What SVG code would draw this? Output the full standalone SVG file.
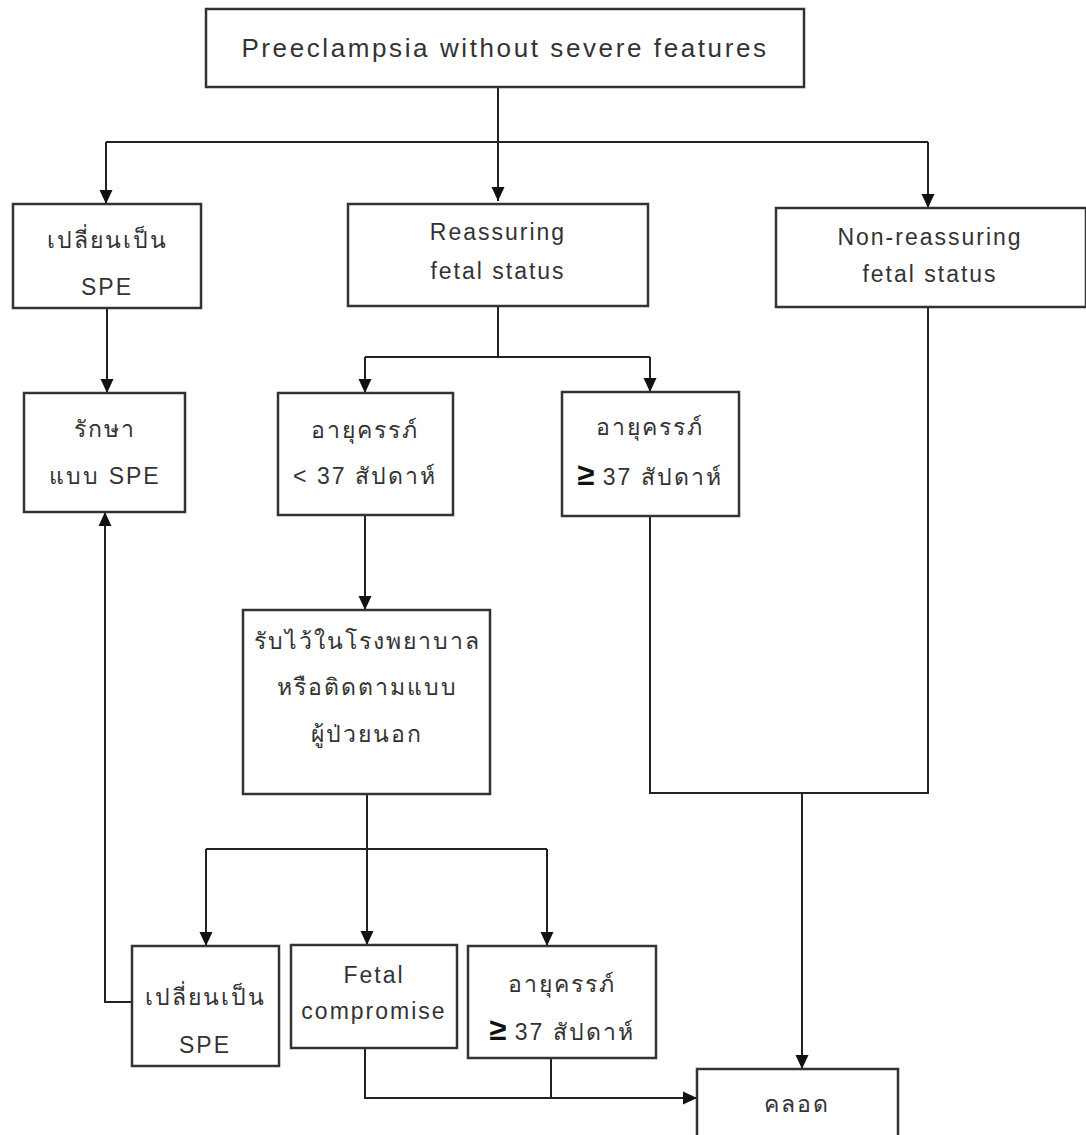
<svg xmlns="http://www.w3.org/2000/svg" width="1086" height="1135" viewBox="0 0 1086 1135">
<defs>
<marker id="arr" markerUnits="userSpaceOnUse" markerWidth="16" markerHeight="16" viewBox="0 0 16 16" refX="15" refY="8" orient="auto">
<path d="M1,1.5 L15,8 L1,14.5 Z" fill="#111"/>
</marker>
<style>
.box{fill:#fff;stroke:#333;stroke-width:2.5}
.t{font-family:"Liberation Sans","Noto Sans","DejaVu Sans",sans-serif;font-size:23px;fill:#333;text-anchor:middle;letter-spacing:2px}
.big{font-size:26px;letter-spacing:2.6px}
.ge{font-size:31px;font-weight:bold;fill:#111;letter-spacing:0}
.c{fill:none;stroke:#222;stroke-width:2}
.a{marker-end:url(#arr)}
</style>
</defs>
<rect width="1086" height="1135" fill="#fff"/>
<g id="connectors">
<path class="c a" d="M498,87 V201"/>
<path class="c" d="M106,142 H928"/>
<path class="c a" d="M106,142 V204"/>
<path class="c a" d="M928,142 V208"/>
<path class="c a" d="M107,308 V393"/>
<path class="c" d="M498,306 V357"/>
<path class="c" d="M365,357 H650"/>
<path class="c a" d="M365,357 V393"/>
<path class="c a" d="M650,357 V392"/>
<path class="c a" d="M365,515 V610"/>
<path class="c a" d="M367,794 V945"/>
<path class="c" d="M206,849 H547"/>
<path class="c a" d="M206,849 V946"/>
<path class="c a" d="M547,849 V946"/>
<path class="c a" d="M132,1002 H105 V512"/>
<path class="c a" d="M365,1048 V1098 H697"/>
<path class="c" d="M551,1058 V1098"/>
<path class="c" d="M650,516 V793 H928 V307"/>
<path class="c a" d="M802,793 V1069"/>
</g>
<g id="n-title">
<rect class="box" x="206" y="9" width="598" height="78"/>
<text class="t big" x="505" y="57">Preeclampsia without severe features</text>
</g>
<g id="n-spe1">
<rect class="box" x="13" y="204" width="188" height="104"/>
<text class="t" x="107" y="248">เปลี่ยนเป็น</text>
<text class="t" x="107" y="295">SPE</text>
</g>
<g id="n-reassuring">
<rect class="box" x="348" y="204" width="300" height="102"/>
<text class="t" x="498" y="240">Reassuring</text>
<text class="t" x="498" y="279">fetal status</text>
</g>
<g id="n-nonreassuring">
<rect class="box" x="776" y="208" width="310" height="99"/>
<text class="t" x="930" y="245">Non-reassuring</text>
<text class="t" x="930" y="282">fetal status</text>
</g>
<g id="n-treat">
<rect class="box" x="24" y="393" width="161" height="119"/>
<text class="t" x="105" y="437">รักษา</text>
<text class="t" x="105" y="484">แบบ SPE</text>
</g>
<g id="n-lt37">
<rect class="box" x="278" y="393" width="175" height="122"/>
<text class="t" x="365" y="438">อายุครรภ์</text>
<text class="t" x="365" y="484">&lt; 37 สัปดาห์</text>
</g>
<g id="n-ge37a">
<rect class="box" x="562" y="392" width="177" height="124"/>
<text class="t" x="650" y="435">อายุครรภ์</text>
<text class="t" x="650" y="485"><tspan class="ge">≥</tspan> 37 สัปดาห์</text>
</g>
<g id="n-admit">
<rect class="box" x="243" y="610" width="247" height="184"/>
<text class="t" x="367" y="649">รับไว้ในโรงพยาบาล</text>
<text class="t" x="367" y="695">หรือติดตามแบบ</text>
<text class="t" x="367" y="742">ผู้ป่วยนอก</text>
</g>
<g id="n-spe2">
<rect class="box" x="132" y="946" width="147" height="120"/>
<text class="t" x="205" y="1005">เปลี่ยนเป็น</text>
<text class="t" x="205" y="1053">SPE</text>
</g>
<g id="n-compromise">
<rect class="box" x="291" y="945" width="166" height="103"/>
<text class="t" x="374" y="983">Fetal</text>
<text class="t" x="374" y="1019">compromise</text>
</g>
<g id="n-ge37b">
<rect class="box" x="468" y="946" width="188" height="112"/>
<text class="t" x="562" y="992">อายุครรภ์</text>
<text class="t" x="562" y="1040"><tspan class="ge">≥</tspan> 37 สัปดาห์</text>
</g>
<g id="n-deliver">
<rect class="box" x="697" y="1069" width="201" height="90"/>
<text class="t" x="797" y="1112">คลอด</text>
</g>
</svg>
